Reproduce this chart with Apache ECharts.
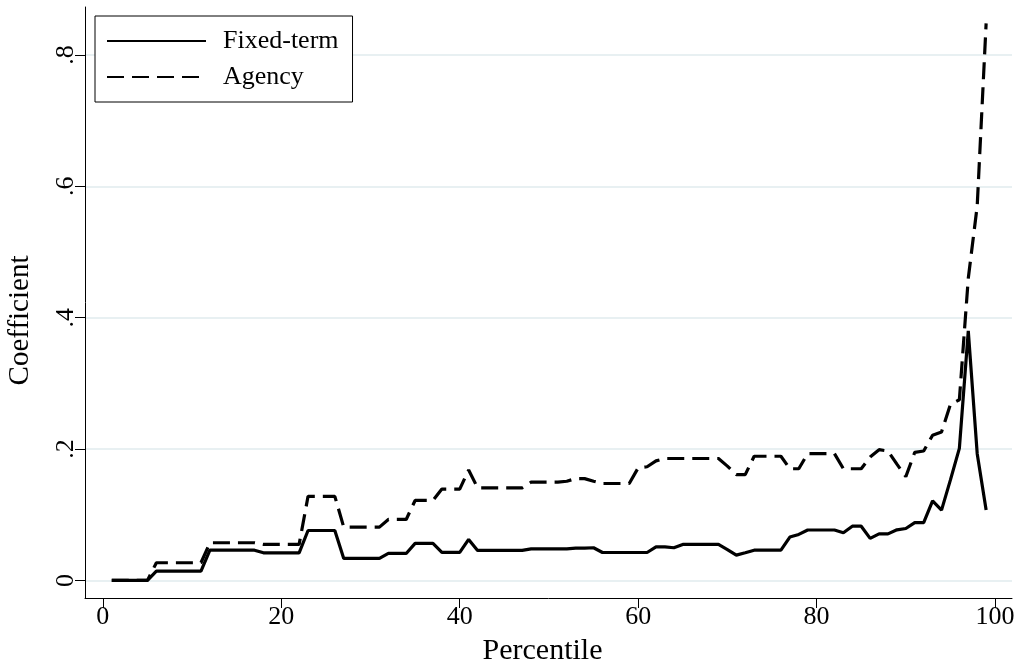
<!DOCTYPE html>
<html>
<head>
<meta charset="utf-8">
<title>Coefficient by percentile</title>
<script src="https://cdn.jsdelivr.net/npm/echarts@6/dist/echarts.min.js"></script>
<style>
  html, body { margin: 0; padding: 0; background: #fff; }
  #chart { width: 1022px; height: 668px; }
</style>
</head>
<body>
<div id="chart"></div>
<script>
// percentiles on the x axis
const percentiles = [
  1, 2, 3, 4, 5, 6, 7, 8, 9, 10,
  11, 12, 13, 14, 15, 16, 17, 18, 19, 20,
  21, 22, 23, 24, 25, 26, 27, 28, 29, 30,
  31, 32, 33, 34, 35, 36, 37, 38, 39, 40,
  41, 42, 43, 44, 45, 46, 47, 48, 49, 50,
  51, 52, 53, 54, 55, 56, 57, 58, 59, 60,
  61, 62, 63, 64, 65, 66, 67, 68, 69, 70,
  71, 72, 73, 74, 75, 76, 77, 78, 79, 80,
  81, 82, 83, 84, 85, 86, 87, 88, 89, 90,
  91, 92, 93, 94, 95, 96, 97, 98, 99
];

// coefficients
const fixedTerm = [
  0, 0, 0, 0, 0, 0.0142, 0.0142, 0.0142, 0.0142, 0.0142,
  0.0142, 0.046, 0.046, 0.046, 0.046, 0.046, 0.046, 0.042, 0.042, 0.042,
  0.042, 0.042, 0.076, 0.076, 0.076, 0.076, 0.0335, 0.0335, 0.0335, 0.0335,
  0.0335, 0.041, 0.041, 0.041, 0.0563, 0.0563, 0.0563, 0.0426, 0.0426, 0.0426,
  0.0624, 0.0456, 0.0456, 0.0456, 0.0456, 0.0456, 0.0456, 0.048, 0.048, 0.048,
  0.048, 0.048, 0.049, 0.049, 0.0497, 0.0425, 0.0425, 0.0425, 0.0425, 0.0425,
  0.0425, 0.051, 0.051, 0.0497, 0.0548, 0.0548, 0.0548, 0.0548, 0.0548, 0.047,
  0.0385, 0.042, 0.046, 0.046, 0.046, 0.046, 0.066, 0.070, 0.0767, 0.0767,
  0.0767, 0.0767, 0.0726, 0.0825, 0.0825, 0.064, 0.0708, 0.0708, 0.077, 0.079,
  0.088, 0.088, 0.121, 0.107, 0.153, 0.201, 0.380, 0.193, 0.107
];

const agency = [
  0, 0, 0, 0, 0, 0.0269, 0.0269, 0.0269, 0.0269, 0.0269,
  0.0269, 0.0573, 0.0573, 0.0573, 0.0573, 0.0573, 0.0573, 0.0548, 0.0548, 0.0548,
  0.0548, 0.0548, 0.128, 0.128, 0.128, 0.128, 0.0811, 0.0811, 0.0811, 0.0811,
  0.0811, 0.0928, 0.0928, 0.0928, 0.1217, 0.1217, 0.1217, 0.139, 0.139, 0.139,
  0.168, 0.141, 0.141, 0.141, 0.141, 0.141, 0.141, 0.1495, 0.1495, 0.1495,
  0.1495, 0.151, 0.155, 0.155, 0.151, 0.1475, 0.1475, 0.1475, 0.1475, 0.1713,
  0.173, 0.182, 0.1856, 0.1856, 0.1856, 0.1856, 0.1856, 0.1856, 0.1856, 0.174,
  0.161, 0.161, 0.189, 0.189, 0.189, 0.189, 0.170, 0.170, 0.193, 0.193,
  0.193, 0.193, 0.170, 0.170, 0.170, 0.188, 0.199, 0.197, 0.177, 0.158,
  0.195, 0.197, 0.221, 0.226, 0.268, 0.275, 0.46, 0.57, 0.848
];

// tick positions
const xTicks = [0, 20, 40, 60, 80, 100];
const yTicks = [0, 0.2, 0.4, 0.6, 0.8];

const serif = "'Liberation Serif', 'Times New Roman', serif";

const chart = echarts.init(document.getElementById('chart'));

// Stata style: 0 shown as "0", others without leading zero
function stataNum(v) {
  return v === 0 ? '0' : String(v).replace(/^0\./, '.');
}

const option = {
  backgroundColor: '#fff',
  animation: false,
  textStyle: { fontFamily: serif, color: '#000' },
  // fixed plot box, do not shrink it to fit the axis names
  grid: { left: 85, right: 10, top: 7, bottom: 70, containLabel: false, outerBoundsMode: 'none' },
  legend: {
    orient: 'vertical',
    left: 95,
    top: 16,
    padding: [12, 14, 12, 11],
    itemWidth: 99,
    itemHeight: 14,
    itemGap: 10,
    backgroundColor: '#fff',
    borderColor: '#000',
    borderWidth: 1,
    // hide the marker dot, keep the line sample
    itemStyle: { opacity: 0 },
    textStyle: { fontFamily: serif, fontSize: 26, color: '#000', padding: [0, 0, 0, 12] },
    data: ['Fixed-term', 'Agency']
  },
  xAxis: {
    type: 'value',
    min: -2,
    max: 101.9,
    name: 'Percentile',
    nameLocation: 'middle',
    nameGap: 38,
    nameTextStyle: { fontFamily: serif, fontSize: 30, color: '#000', padding: [0, 12, 0, 0] },
    axisLine: { show: true, onZero: false, lineStyle: { color: '#000', width: 1 } },
    axisTick: { show: true, length: 10, lineStyle: { color: '#000' }, customValues: xTicks },
    axisLabel: { fontFamily: serif, fontSize: 26, color: '#000', margin: 6, customValues: xTicks },
    splitLine: { show: false }
  },
  yAxis: {
    type: 'value',
    min: -0.0268,
    max: 0.873,
    name: 'Coefficient',
    nameLocation: 'middle',
    nameGap: 50,
    // Stata centres the title on the tick range, a little below the axis middle
    nameTextStyle: { fontFamily: serif, fontSize: 29, color: '#000', padding: [0, 36, 0, 0] },
    axisLine: { show: true, onZero: false, lineStyle: { color: '#000', width: 1 } },
    axisTick: { show: true, length: 10, lineStyle: { color: '#000' }, customValues: yTicks },
    axisLabel: {
      fontFamily: serif, fontSize: 26, color: '#000', rotate: 90, margin: 6,
      customValues: yTicks, formatter: stataNum
    },
    splitLine: { show: true, lineStyle: { color: '#e8f0f2', width: 2 } }
  },
  series: [
    {
      name: 'Fixed-term',
      type: 'line',
      symbol: 'none',
      data: percentiles.map((p, i) => [p, fixedTerm[i]]),
      lineStyle: { color: '#000', width: 3.2, type: 'solid' },
      itemStyle: { color: '#000' }
    },
    {
      name: 'Agency',
      type: 'line',
      symbol: 'none',
      data: percentiles.map((p, i) => [p, agency[i]]),
      lineStyle: { color: '#000', width: 3.2, type: [17, 8] },
      itemStyle: { color: '#000' }
    }
  ]
};

chart.setOption(option);
</script>
</body>
</html>
